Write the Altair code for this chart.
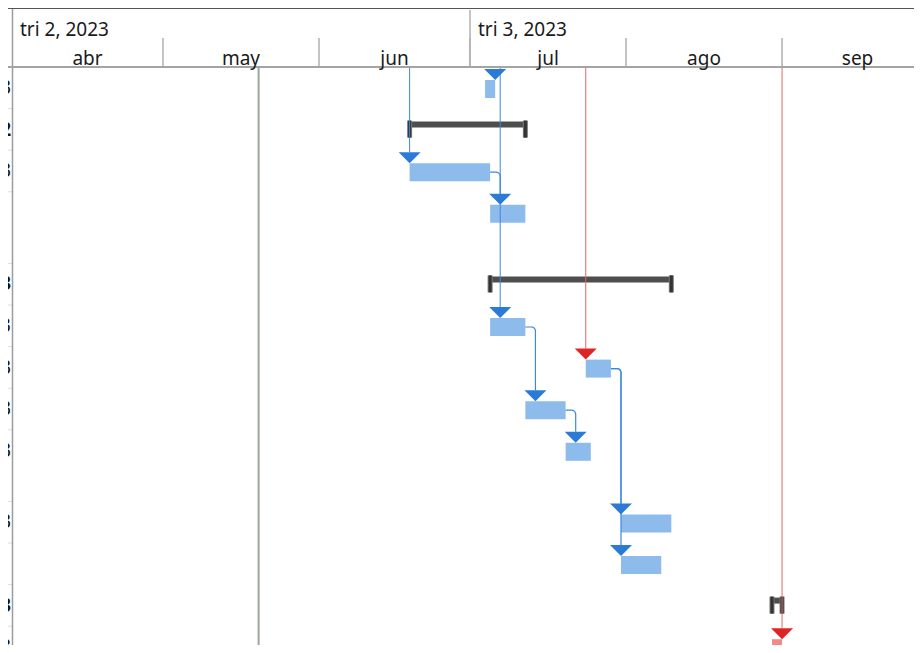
import math
import altair as alt
import pandas as pd

# ---------------- data ----------------
ROW_TAIL = ["3", "2", "3", "", "3", "23", "3", "3", "3", "3", "", "3", "3"]
ROW_KIND = ["task", "summary", "task", "task", "summary", "task", "task",
            "task", "task", "task", "task", "summary", "task"]
ROW_LINES = [1, 1, 1, 2, 1, 1, 1, 1, 2, 1, 1, 1, 1]
ROW_START = ["2023-07-04", "2023-06-19", "2023-06-19", "2023-07-05", "2023-07-05",
             "2023-07-05", "2023-07-24", "2023-07-12", "2023-07-20", "2023-07-31",
             "2023-07-31", "2023-08-30", "2023-08-30"]
ROW_END = ["2023-07-06", "2023-07-12", "2023-07-05", "2023-07-12", "2023-08-10",
           "2023-07-12", "2023-07-29", "2023-07-20", "2023-07-25", "2023-08-10",
           "2023-08-08", "2023-09-01", "2023-09-01"]
ROW_CRITICAL = [False] * 12 + [True]
ROW_ARROW = ["2023-07-06", None, "2023-06-19", "2023-07-07", None, "2023-07-07",
             "2023-07-24", "2023-07-14", "2023-07-22", "2023-07-31", "2023-07-31",
             None, "2023-09-01"]
ROW_ARROW_RED = [False, False, False, False, False, False, True,
                 False, False, False, False, False, True]

LINK_FROM = [3, 6, 8, 7, 7]      # 1-based row numbers
LINK_TO = [4, 8, 9, 10, 11]
EXT_LINK_TO = [3, 6, 7, 13]      # links coming from tasks above the view
EXT_LINK_RED = [False, False, True, True]

TODAY = "2023-05-20"
MONTHS = ["abr", "may", "jun", "jul", "ago", "sep"]
MONTH_START = ["2023-04-01", "2023-05-01", "2023-06-01", "2023-07-01",
               "2023-08-01", "2023-09-01", "2023-10-01"]
QUARTERS = ["tri 2, 2023", "tri 3, 2023"]
QUARTER_START = ["2023-04-01", "2023-07-01"]

# ---------------- layout ----------------
ORIGIN = pd.Timestamp("2023-04-01")


def day(s):
    return (pd.Timestamp(s) - ORIGIN).days


PX_PER_DAY = 5.033
W, H = 902, 637
X_MAX = W / PX_PER_DAY
HEADER = 59
ROW_PAD, LINE_H = 11.6, 30.0

tops = []
t = HEADER
for n in ROW_LINES:
    tops.append(t)
    t += ROW_PAD + LINE_H * n

BLUE_BAR = "#8cbbec"
BLUE = "#2b7bd6"
BLUE_LINE = "#3d88dc"
RED = "#de2424"
RED_LINE = "#e46666"
FONT = "Noto Sans"

xs = alt.Scale(domain=[0, X_MAX], nice=False, zero=False)
ys = alt.Scale(domain=[0, H], nice=False, zero=False, reverse=True)


def X(f):
    return alt.X(f + ":Q", scale=xs, axis=None)


def Y(f):
    return alt.Y(f + ":Q", scale=ys, axis=None)


one = pd.DataFrame({"a": [0]})

# tasks
task_rows = [i for i, k in enumerate(ROW_KIND) if k == "task"]
tasks = pd.DataFrame({
    "x": [day(ROW_START[i]) for i in task_rows],
    "x2": [day(ROW_END[i]) for i in task_rows],
    "y": [tops[i] + 13 for i in task_rows],
    "y2": [tops[i] + 31 for i in task_rows],
    "c": ["#f4898b" if ROW_CRITICAL[i] else BLUE_BAR for i in task_rows],
})
sum_rows = [i for i, k in enumerate(ROW_KIND) if k == "summary"]
summ = pd.DataFrame({
    "x": [day(ROW_START[i]) for i in sum_rows],
    "x2": [day(ROW_END[i]) for i in sum_rows],
    "y": [tops[i] + 13 for i in sum_rows],
    "y2": [tops[i] + 19 for i in sum_rows],
})
caps = pd.DataFrame({
    "x": [day(ROW_START[i]) for i in sum_rows] + [day(ROW_END[i]) for i in sum_rows],
    "y": [tops[i] + 12 for i in sum_rows] * 2,
    "y2": [tops[i] + 29 for i in sum_rows] * 2,
})

arrow_rows = [i for i in range(len(ROW_ARROW)) if ROW_ARROW[i]]
arrows = pd.DataFrame({
    "x": [day(ROW_ARROW[i]) for i in arrow_rows],
    "y": [tops[i] + 7.5 for i in arrow_rows],
    "c": [RED if ROW_ARROW_RED[i] else BLUE for i in arrow_rows],
})

ext = pd.DataFrame({
    "x": [day(ROW_ARROW[r - 1]) for r in EXT_LINK_TO],
    "y": [HEADER + 1 for _ in EXT_LINK_TO],
    "y2": [tops[r - 1] + 2 for r in EXT_LINK_TO],
    "c": [RED_LINE if red else BLUE_LINE for red in EXT_LINK_RED],
})

# internal links as rounded elbow lines
rad_px = 4.0
rad_d = rad_px / PX_PER_DAY
pts = []
for k, (f, to) in enumerate(zip(LINK_FROM, LINK_TO)):
    e = day(ROW_END[f - 1])
    a = day(ROW_ARROW[to - 1])
    ym = tops[f - 1] + 22
    seq = [(e, ym)]
    for j in range(7):
        th = math.radians(90 * j / 6)
        seq.append((a - rad_d + rad_d * math.sin(th), ym + rad_px - rad_px * math.cos(th)))
    seq.append((a, tops[to - 1] + 2))
    for o, (px, py) in enumerate(seq):
        pts.append({"link": k, "o": o, "x": px, "y": py})
links = pd.DataFrame(pts)

months = pd.DataFrame({
    "label": MONTHS,
    "mid": [(day(MONTH_START[i]) + day(MONTH_START[i + 1])) / 2 for i in range(len(MONTHS))],
})
mticks = pd.DataFrame({"x": [day(s) for s in MONTH_START[1:-1]]})
quarters = pd.DataFrame({"label": QUARTERS, "x": [day(s) for s in QUARTER_START]})
qdiv = pd.DataFrame({"x": [day(s) for s in QUARTER_START[1:]]})
today = pd.DataFrame({"x": [day(TODAY)]})

seps = pd.DataFrame({"y": [tops[i] + ROW_PAD + LINE_H * ROW_LINES[i] for i in range(len(tops))]})
tails = pd.DataFrame({
    "t": ROW_TAIL,
    "y": [tp + 21 for tp in tops],
    "w": ["bold" if k == "summary" else "normal" for k in ROW_KIND],
})

layers = [
    # left table sliver
    alt.Chart(seps).mark_rule(color="#dedede", strokeWidth=1).encode(
        x=alt.value(-4), x2=alt.value(0), y=Y("y")),
    alt.Chart(tails[tails.w == "normal"]).mark_text(
        align="right", baseline="middle", font=FONT, fontSize=19, color="#111").encode(
        x=alt.value(-1), y=Y("y"), text="t:N"),
    alt.Chart(tails[tails.w == "bold"]).mark_text(
        align="right", baseline="middle", font=FONT, fontSize=19, fontWeight="bold",
        color="#111").encode(x=alt.value(-1), y=Y("y"), text="t:N"),
    alt.Chart(one).mark_rule(color="#9c9c9c", strokeWidth=1.5).encode(
        x=alt.value(0.5), y=alt.value(0), y2=alt.value(H)),
    # header
    alt.Chart(one).mark_rule(color="#555555", strokeWidth=1).encode(
        x=alt.value(-4), x2=alt.value(W), y=alt.value(0.5)),
    alt.Chart(mticks).mark_rule(color="#b0b0b0", strokeWidth=1.5).encode(
        x=X("x"), y=alt.value(30), y2=alt.value(HEADER)),
    alt.Chart(qdiv).mark_rule(color="#b0b0b0", strokeWidth=1.5).encode(
        x=X("x"), y=alt.value(2), y2=alt.value(HEADER)),
    alt.Chart(one).mark_rule(color="#a4a4a4", strokeWidth=2).encode(
        x=alt.value(-4), x2=alt.value(W), y=alt.value(HEADER)),
    alt.Chart(quarters).mark_text(
        align="left", baseline="alphabetic", font=FONT, fontSize=19, dx=8, color="#1a1a1a").encode(
        x=X("x"), y=alt.value(28), text="label:N"),
    alt.Chart(months).mark_text(
        align="center", baseline="alphabetic", font=FONT, fontSize=19, color="#1a1a1a").encode(
        x=X("mid"), y=alt.value(57), text="label:N"),
    # today line
    alt.Chart(today).mark_rule(color="#98a99a", strokeWidth=2).encode(
        x=X("x"), y=alt.value(HEADER + 1), y2=alt.value(H)),
    # bars
    alt.Chart(tasks).mark_rect().encode(
        x=X("x"), x2="x2:Q", y=Y("y"), y2="y2:Q", color=alt.Color("c:N", scale=None)),
    alt.Chart(summ).mark_rect(color="#4e4e4e").encode(
        x=X("x"), x2="x2:Q", y=Y("y"), y2="y2:Q"),
    alt.Chart(caps).mark_rule(color="#777777", strokeWidth=5).encode(
        x=X("x"), y=Y("y"), y2="y2:Q"),
    alt.Chart(caps).mark_rule(color="#333333", strokeWidth=3).encode(
        x=X("x"), y=Y("y"), y2="y2:Q"),
    # links
    alt.Chart(ext).mark_rule(strokeWidth=1).encode(
        x=X("x"), y=Y("y"), y2="y2:Q", color=alt.Color("c:N", scale=None)),
    alt.Chart(links).mark_line(color=BLUE_LINE, strokeWidth=1.2, interpolate="linear").encode(
        x=X("x"), y=Y("y"), detail="link:N", order="o:Q"),
    alt.Chart(arrows).mark_point(
        shape="M-1,-0.5L1,-0.5L0,0.5Z", size=484, filled=True, opacity=1, strokeWidth=0).encode(
        x=X("x"), y=Y("y"), color=alt.Color("c:N", scale=None)),
]

chart = alt.layer(*layers).properties(
    width=W, height=H,
    autosize=alt.AutoSizeParams(type="none"),
    padding={"left": 4, "top": 0, "right": 0, "bottom": 0},
    background="white",
).configure_view(stroke=None)

chart.save("out.html", embed_options={"renderer": "svg", "actions": False})
